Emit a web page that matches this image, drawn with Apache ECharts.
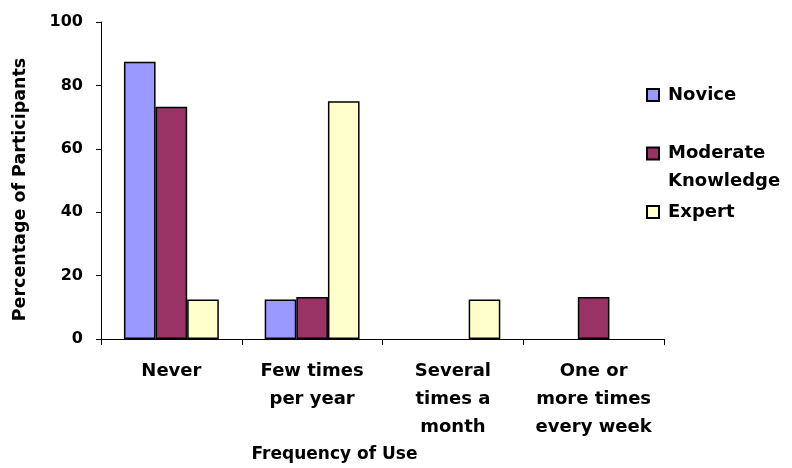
<!DOCTYPE html>
<html>
<head>
<meta charset="utf-8">
<script src="https://cdn.jsdelivr.net/npm/echarts@6/dist/echarts.min.js"></script>
<style>
  html, body { margin: 0; padding: 0; background: #ffffff; }
  #chart { width: 792px; height: 468px; }
</style>
</head>
<body>
<div id="chart"></div>
<script>
// Frequency of use, grouped by participant expertise (percent)
var categories = ['Never', 'Few times\nper year', 'Several\ntimes a\nmonth', 'One or\nmore times\nevery week'];
var novice = [87.5, 12.5, 0, 0];
var moderate = [73.3, 13.3, 0, 13.3];
var expert = [12.5, 75, 12.5, 0];
var yTicks = [0, 20, 40, 60, 80, 100];

var FONT = 'DejaVu Sans';

// Zero values stay in the data but get no outline, so no flat stub is drawn
function bars(name, data, color) {
  return {
    name: name,
    type: 'bar',
    data: data.map(function (v) {
      return v === 0 ? { value: 0, itemStyle: { borderWidth: 0 } } : v;
    }),
    barGap: '0%',
    barCategoryGap: '32.6%',
    itemStyle: { color: color, borderColor: '#000000', borderWidth: 1.5 },
    emphasis: { disabled: true }
  };
}

var chart = echarts.init(document.getElementById('chart'), null, { renderer: 'canvas' });
chart.setOption({
  animation: false,
  backgroundColor: '#ffffff',
  grid: { left: 101, right: 128, top: 22, bottom: 127, containLabel: false },
  legend: {
    orient: 'vertical',
    left: 646,
    top: 81,
    padding: 0,
    itemGap: 2.5,
    itemWidth: 12,
    itemHeight: 12,
    icon: 'rect',
    // two-word names wrap, with the icon beside the first line
    formatter: function (n) {
      return n.indexOf(' ') > 0 ? ' \n' + n.replace(' ', '\n') : n;
    },
    textStyle: {
      fontFamily: FONT, fontWeight: 'bold', fontSize: 18, color: '#000000',
      lineHeight: 28, padding: [0, 0, 0, 4]
    },
    data: ['Novice', 'Moderate Knowledge', 'Expert']
  },
  xAxis: {
    type: 'category',
    data: categories,
    name: 'Frequency of Use',
    nameLocation: 'middle',
    nameGap: 106,
    nameTextStyle: {
      fontFamily: FONT, fontWeight: 'bold', fontSize: 17, color: '#000000',
      padding: [0, 96, 0, 0]
    },
    axisLine: { lineStyle: { color: '#000000', width: 1 } },
    axisTick: { show: true, length: 6, lineStyle: { color: '#000000' } },
    axisLabel: {
      interval: 0, margin: 18, color: '#000000',
      fontFamily: FONT, fontWeight: 'bold', fontSize: 18, lineHeight: 28
    },
    splitLine: { show: false }
  },
  yAxis: {
    type: 'value',
    min: yTicks[0],
    max: yTicks[yTicks.length - 1],
    interval: 20,
    name: 'Percentage of Participants',
    nameLocation: 'middle',
    nameGap: 72,
    nameTextStyle: {
      fontFamily: FONT, fontWeight: 'bold', fontSize: 17.5, color: '#000000',
      padding: [0, 18, 0, 0]
    },
    axisLine: { show: true, lineStyle: { color: '#000000', width: 1 } },
    axisTick: { show: true, length: 5, lineStyle: { color: '#000000' } },
    axisLabel: {
      margin: 18, color: '#000000',
      fontFamily: FONT, fontWeight: 'bold', fontSize: 16
    },
    splitLine: { show: false }
  },
  series: [
    bars('Novice', novice, '#9999FF'),
    bars('Moderate Knowledge', moderate, '#993366'),
    bars('Expert', expert, '#FFFFCC')
  ]
});
</script>
</body>
</html>
